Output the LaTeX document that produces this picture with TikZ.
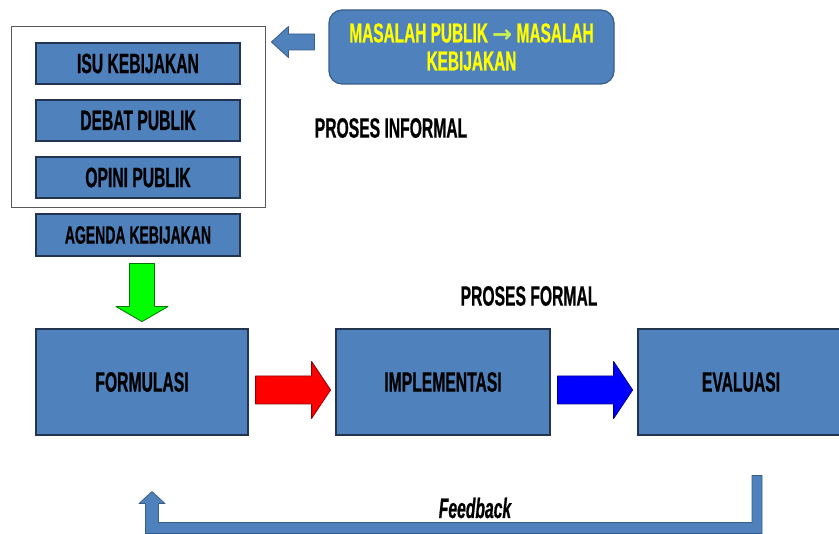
\documentclass[tikz,border=0pt]{standalone}
\usepackage{fontspec}
\setmainfont{Liberation Sans}
\newfontfamily\cf{Liberation Sans}[FakeStretch=0.56, BoldFeatures={FakeBold=0.6}, BoldItalicFeatures={FakeBold=0.6}]
\newfontfamily\symf{DejaVu Sans}
\usetikzlibrary{calc}
\definecolor{boxblue}{HTML}{4F81BD}
\definecolor{boxedge}{HTML}{22344F}
\definecolor{arredge}{HTML}{385D8A}
\definecolor{ylw}{HTML}{FFFF00}
\definecolor{ylwgreen}{HTML}{C8F050}
\begin{document}
\begin{tikzpicture}[x=1pt,y=-1pt,
  bluebox/.style={draw=boxedge, line width=1.2pt, fill=boxblue, inner sep=0pt,
     font=\cf\bfseries\fontsize{28}{30}\selectfont, text=black},
  smallbox/.style={bluebox, minimum width=204pt, minimum height=41pt},
  bigbox/.style={bluebox, minimum width=212pt, minimum height=106pt},
  label/.style={font=\cf\bfseries\fontsize{28}{30}\selectfont, text=black, inner sep=0pt},
  blockarr/.style={line width=0.8pt, line join=round},
]
\useasboundingbox (0,0) rectangle (839,534);
% informal group
\node[draw=black!65, line width=0.8pt, fill=white, minimum width=254pt, minimum height=181pt, inner sep=0pt] (group) at (138,116.5) {};
\node[smallbox] (isu) at (138,63.5) {ISU KEBIJAKAN};
\node[smallbox] (debat) at (138,120.5) {DEBAT PUBLIK};
\node[smallbox] (opini) at (138,177.5) {OPINI PUBLIK};
\node[smallbox, minimum height=42pt, font=\cf\bfseries\fontsize{25}{27}\selectfont] (agenda) at (138,235) {AGENDA KEBIJAKAN};
% masalah box
\node[bluebox, draw=arredge, rounded corners=13pt, minimum width=285pt, minimum height=74pt,
   text=ylw, align=center, font=\cf\bfseries\fontsize{27.5}{28}\selectfont] (masalah) at (471.5,47)
   {MASALAH PUBLIK {\symf\bfseries\fontsize{24}{24}\selectfont\textcolor{ylwgreen}{→}} MASALAH\\KEBIJAKAN};
\node[label] (informal) at (391,128) {PROSES INFORMAL};
\node[label] (formal) at (529,296) {PROSES FORMAL};
% formal process
\node[bigbox] (form) at (142,382) {FORMULASI};
\node[bigbox, minimum width=214pt] (impl) at (443,382) {IMPLEMENTASI};
\node[bigbox, minimum width=206pt] (eval) at (741,382) {EVALUASI};
% arrow masalah -> group
\draw[blockarr, draw=arredge, fill=boxblue, shift={($(masalah.west)+(-14,-5)$)}]
  (0,-8) -- (-26,-8) -- (-26,-15.5) -- (-43,0) -- (-26,15.5) -- (-26,8) -- (0,8) -- cycle;
% green arrow agenda -> formulasi
\draw[blockarr, draw=green!45!black, fill={rgb,255:red,0;green,255;blue,0}, shift={($(agenda.south -| form.north)+(0,7)$)}]
  (-12.5,0) -- (12.5,0) -- (12.5,43) -- (26,43) -- (0,58) -- (-26,43) -- (-12.5,43) -- cycle;
% red arrow formulasi -> implementasi
\draw[blockarr, draw=red!55!black, fill=red, shift={($(form.east)+(7,8)$)}]
  (0,-14) -- (56,-14) -- (56,-28.5) -- (75,0) -- (56,28.5) -- (56,14) -- (0,14) -- cycle;
% blue arrow implementasi -> evaluasi
\draw[blockarr, draw=blue!55!black, fill=blue, shift={($(impl.east)+(7,8)$)}]
  (0,-14) -- (56,-14) -- (56,-28.5) -- (75,0) -- (56,28.5) -- (56,14) -- (0,14) -- cycle;
% feedback
\coordinate (fbstart) at ($(eval.south)+(16,40)$);
\coordinate (fbend) at ($(form.south)+(10,56)$);
\draw[blockarr, draw=arredge, fill=boxblue]
  ($(fbstart)+(5,0)$) -- ($(fbstart)+(5,58)$) -- ($(fbend)+(-6.5,42)$) -- ($(fbend)+(-6.5,12)$)
  -- ($(fbend)+(-13,12)$) -- (fbend) -- ($(fbend)+(13,12)$) -- ($(fbend)+(6.5,12)$)
  -- ($(fbend |- fbstart)+(6.5,47)$) -- ($(fbstart)+(-5,47)$) -- ($(fbstart)+(-5,0)$) -- cycle;
\node[font=\cf\bfseries\itshape\fontsize{28}{30}\selectfont, inner sep=0pt] (fb) at (475,508) {Feedback};
\end{tikzpicture}
\end{document}
